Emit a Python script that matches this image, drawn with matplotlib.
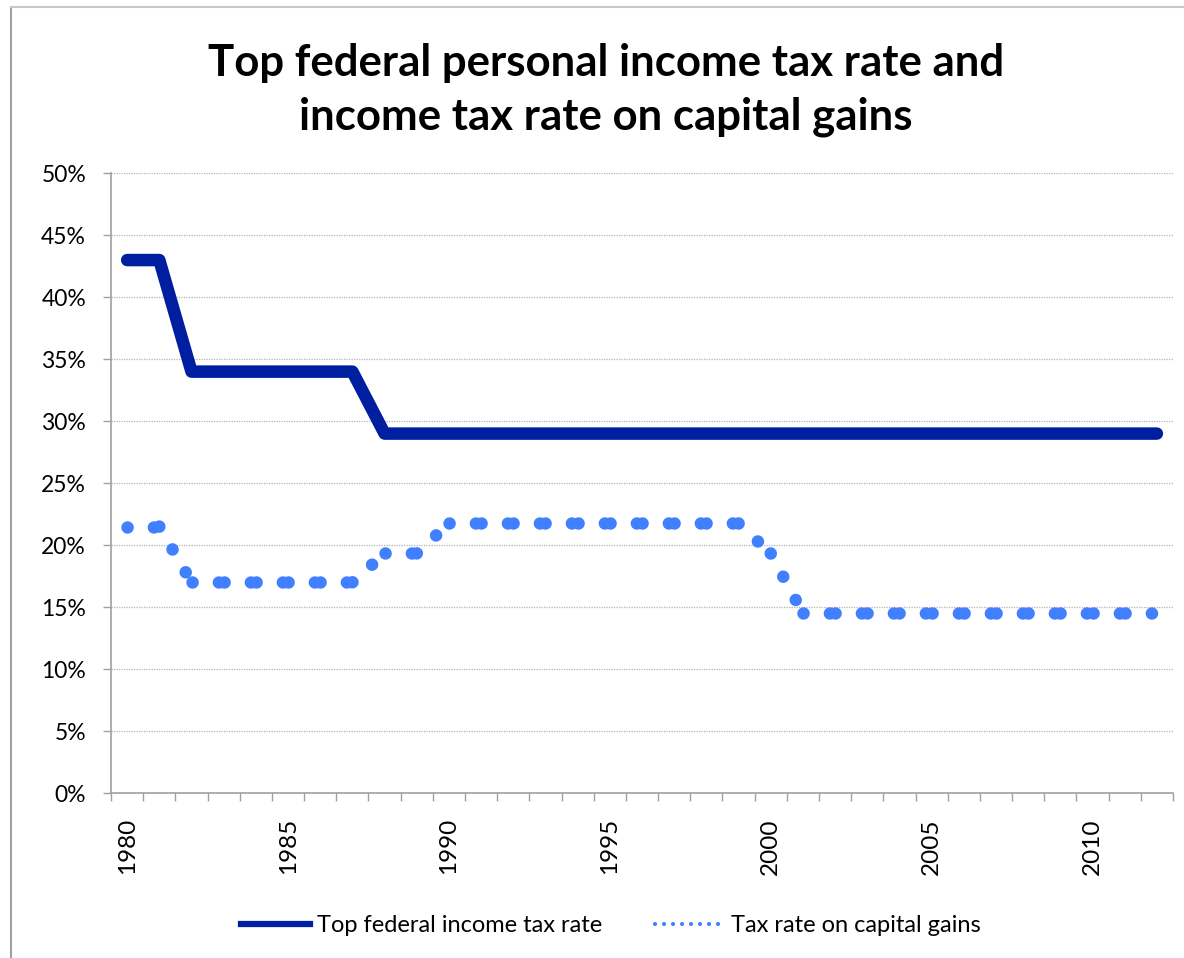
import numpy as np
import matplotlib
matplotlib.use("Agg")
import matplotlib.pyplot as plt
from matplotlib.lines import Line2D
from matplotlib.ticker import FuncFormatter

plt.rcParams['font.family'] = ['Lato', 'DejaVu Sans']

# Данные
YEARS = list(range(1980, 2013))
TOP_RATE = [43, 43,
            34, 34, 34, 34, 34, 34,
            29, 29, 29, 29, 29, 29, 29, 29, 29, 29, 29, 29, 29,
            29, 29, 29, 29, 29, 29, 29, 29, 29, 29, 29, 29]
CAPITAL_GAINS = [21.5, 21.5,
                 17, 17, 17, 17, 17, 17,
                 19.33, 19.33,
                 21.75, 21.75, 21.75, 21.75, 21.75, 21.75, 21.75, 21.75, 21.75, 21.75,
                 19.33,
                 14.5, 14.5, 14.5, 14.5, 14.5, 14.5, 14.5, 14.5, 14.5, 14.5, 14.5, 14.5]
LABEL_YEARS = [1980, 1985, 1990, 1995, 2000, 2005, 2010]
Y_TICKS = [0, 5, 10, 15, 20, 25, 30, 35, 40, 45, 50]

TITLE = "Top federal personal income tax rate and\nincome tax rate on capital gains"
SERIES_NAMES = ["Top federal income tax rate", "Tax rate on capital gains"]

DARK_BLUE = "#001ea0"
LIGHT_BLUE = "#4080ff"
AXIS_GRAY = "#a0a0a0"
DOT_STYLE = (0, (0.01, 2.1))


def main():
    fig = plt.figure(figsize=(11.84, 9.58), dpi=100)
    ax = fig.add_axes([0.0938, 0.1722, 0.8969, 0.6469])

    x = np.arange(len(YEARS))

    ax.plot(x, TOP_RATE, color=DARK_BLUE, lw=9,
            solid_capstyle='round', solid_joinstyle='round', zorder=3)

    # пунктир рисуется по отрезкам, чтобы узор начинался заново в каждой точке
    for i in range(len(x) - 1):
        ax.plot(x[i:i + 2], CAPITAL_GAINS[i:i + 2], color=LIGHT_BLUE, lw=9,
                linestyle=DOT_STYLE, dash_capstyle='round', zorder=3)

    ax.set_xlim(-0.5, len(YEARS) - 0.5)
    ax.set_ylim(0, 50)

    ax.set_yticks(Y_TICKS)
    ax.yaxis.set_major_formatter(FuncFormatter(lambda v, _: f"{v:.0f}%"))
    ax.tick_params(axis='y', length=6, width=1, color=AXIS_GRAY, pad=12,
                   labelsize=16.5)
    ax.yaxis.grid(True, color="#b4b4b4", linestyle=(0, (1, 1)), lw=0.9)
    ax.set_axisbelow(True)

    ax.set_xticks(np.arange(-0.5, len(YEARS), 1))
    ax.set_xticklabels([])
    ax.tick_params(axis='x', which='major', length=6, width=1, color=AXIS_GRAY)
    ax.set_xticks([YEARS.index(y) for y in LABEL_YEARS], minor=True)
    ax.set_xticklabels([str(y) for y in LABEL_YEARS], minor=True,
                       rotation=90, fontsize=17.5)
    ax.tick_params(axis='x', which='minor', length=0, pad=18)

    for side in ['top', 'right']:
        ax.spines[side].set_visible(False)
    for side in ['left', 'bottom']:
        ax.spines[side].set_color(AXIS_GRAY)
        ax.spines[side].set_linewidth(1.2)

    fig.text(0.512, 0.906, TITLE, ha='center', va='center', fontsize=31.5,
             fontweight='bold', linespacing=1.4)

    handles = [
        Line2D([], [], color=DARK_BLUE, lw=4.5),
        Line2D([], [], color=LIGHT_BLUE, lw=3, linestyle=(0, (0.01, 2.15)),
               dash_capstyle='round'),
    ]
    fig.legend(handles, SERIES_NAMES, loc='center', ncol=2, frameon=False,
               bbox_to_anchor=(0.516, 0.034), fontsize=17, handlelength=2.9,
               handletextpad=0.3, columnspacing=2.25)

    # рамка области диаграммы
    fig.add_artist(Line2D([0.0097, 0.0097], [0, 0.9932], color="#a0a0a0",
                          lw=1.5, transform=fig.transFigure))
    fig.add_artist(Line2D([0.0097, 1], [0.9932, 0.9932], color="#c8c8c8",
                          lw=1.5, transform=fig.transFigure))

    fig.savefig("out.png", dpi=100)


if __name__ == "__main__":
    main()
